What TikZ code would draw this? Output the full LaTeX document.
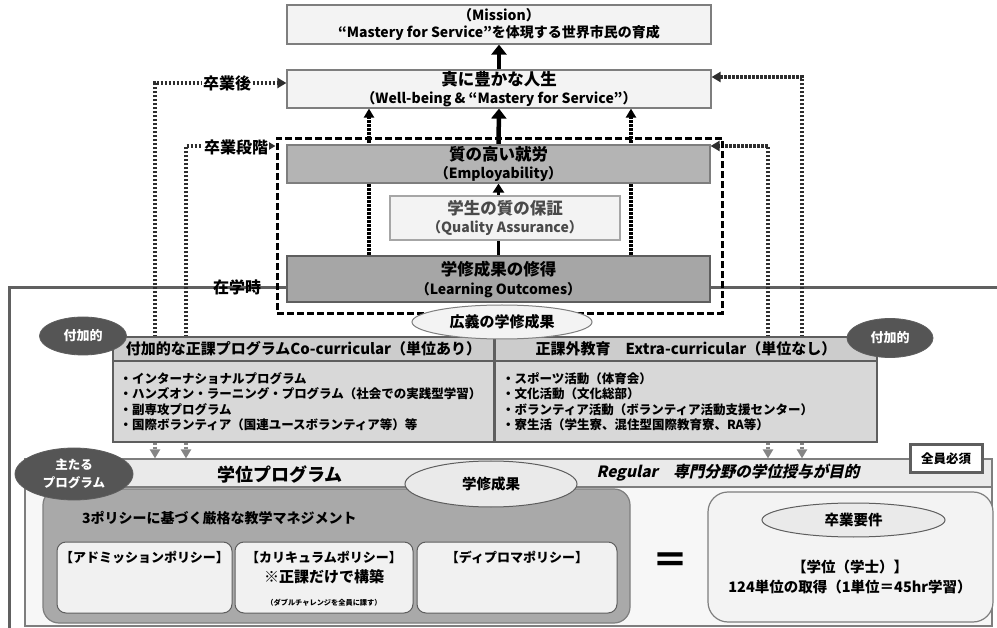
\documentclass[tikz,border=0pt]{standalone}
\usepackage{fontspec}
\setmainfont{Noto Sans CJK JP}
\newfontfamily\jpslant{Noto Sans CJK JP}[FakeSlant=0.22]
\usetikzlibrary{arrows.meta,shapes.geometric}
\definecolor{paleF}{HTML}{F3F3F3}
\definecolor{empF}{HTML}{B4B4B4}
\definecolor{loF}{HTML}{A6A6A6}
\definecolor{edgeG}{HTML}{7E7E7E}
\definecolor{edgeD}{HTML}{5E5E5E}
\definecolor{darkE}{HTML}{555555}
\definecolor{headF}{HTML}{CCCCCC}
\definecolor{bodyF}{HTML}{D8D8D8}
\definecolor{bandF}{HTML}{EAEAEA}
\definecolor{areaF}{HTML}{F7F7F7}
\definecolor{mgmtF}{HTML}{A9A9A9}
\definecolor{innerF}{HTML}{F1F1F1}
\definecolor{dotC}{HTML}{2E2E2E}
\definecolor{dotL}{HTML}{858585}
\definecolor{frameC}{HTML}{606060}
\definecolor{qaT}{HTML}{4A4A4A}
\pgfdeclarelayer{back}
\pgfdeclarelayer{conn}
\pgfsetlayers{back,conn,main}
\begin{document}
\begin{tikzpicture}[x=1pt,y=-1pt,
  box/.style={draw=edgeG,line width=1.2pt,inner sep=0pt,align=center},
  palebox/.style={box,fill=paleF},
  ttl/.style={font=\bfseries\fontsize{16.5}{17.5}\selectfont},
  bigarr/.style={line width=4.5pt,-{Triangle[length=10pt,width=15pt]}},
  dotline/.style={draw=dotC,line width=3.2pt,dash pattern=on 2.6pt off 1.4pt,-{Triangle[length=9pt,width=10pt]}},
  dotlow/.style={dotline,draw=dotL},
  darkell/.style={ellipse,fill=darkE,draw=edgeD,line width=0.8pt,inner sep=0pt,text=white,align=center,font=\bfseries\fontsize{13}{17}\selectfont},
  lightell/.style={ellipse,fill=paleF,draw=edgeG,line width=1pt,inner sep=0pt,align=center},
  lbl/.style={inner sep=1pt,font=\bfseries\fontsize{16}{18}\selectfont},
  rbox/.style={draw=edgeG,line width=1.2pt,inner sep=0pt},
  polt/.style={font=\bfseries\fontsize{13}{15}\selectfont},
]
\useasboundingbox (0,0) rectangle (997,628);

% ---------- top boxes ----------
\node[palebox,minimum width=424pt,minimum height=39pt,font=\bfseries\fontsize{14}{17}\selectfont] (mission) at (499,24.5) {（Mission）\\“Mastery for Service”を体現する世界市民の育成};
\node[palebox,minimum width=424pt,minimum height=38pt,ttl] (wb) at (499,89) {真に豊かな人生\\{\fontsize{14}{17.5}\selectfont （Well-being \& “Mastery for Service”）}};
\node[box,fill=empF,minimum width=423pt,minimum height=38pt,ttl] (emp) at (498.5,164) {質の高い就労\\{\fontsize{14}{17.5}\selectfont （Employability）}};
\node[palebox,draw=gray!70,minimum width=230pt,minimum height=44pt,ttl,text=qaT] (qa) at (505,218) {学生の質の保証\\{\fontsize{14}{17.5}\selectfont （Quality Assurance）}};
\node[box,fill=loF,draw=edgeD,line width=2.4pt,minimum width=423pt,minimum height=46pt,font=\bfseries\fontsize{16.5}{19}\selectfont] (lo) at (498.5,279) {学修成果の修得\\{\fontsize{14}{19}\selectfont （Learning Outcomes）}};
\node[draw=black,line width=3pt,dash pattern=on 7pt off 3pt,minimum width=445pt,minimum height=175pt,inner sep=0pt] (dbox) at (499.5,226) {};

% ---------- co / extra curricular ----------
\node[box,draw=edgeD,fill=headF,minimum width=381pt,minimum height=24pt,font=\bfseries\fontsize{15}{17}\selectfont] (cohead) at (303.5,349) {付加的な正課プログラムCo-curricular（単位あり）};
\node[box,draw=edgeD,fill=bodyF,minimum width=381pt,minimum height=81pt,text width=368pt,align=left,font=\bfseries\fontsize{12.5}{15.5}\selectfont] (cobody) at (303.5,401.5) {・インターナショナルプログラム\\・ハンズオン・ラーニング・プログラム（社会での実践型学習）\\・副専攻プログラム\\・国際ボランティア（国連ユースボランティア等）等};
\node[box,draw=edgeD,fill=headF,minimum width=382pt,minimum height=24pt,font=\bfseries\fontsize{15}{17}\selectfont] (exhead) at (686,349) {正課外教育\quad Extra-curricular（単位なし）};
\node[box,draw=edgeD,fill=bodyF,minimum width=382pt,minimum height=81pt,text width=368pt,align=left,font=\bfseries\fontsize{12.5}{15.5}\selectfont] (exbody) at (686,401.5) {・スポーツ活動（体育会）\\・文化活動（文化総部）\\・ボランティア活動（ボランティア活動支援センター）\\・寮生活（学生寮、混住型国際教育寮、RA等）};

\node[lightell,minimum width=180pt,minimum height=34pt,font=\bfseries\fontsize{15}{17}\selectfont] (kougi) at (502,322) {広義の学修成果};
\node[darkell,minimum width=87pt,minimum height=38pt] (fuka1) at (83,336) {付加的};
\node[darkell,minimum width=86pt,minimum height=39pt] (fuka2) at (890,338) {付加的};

% ---------- degree programme ----------
\node[rbox,fill=areaF,minimum width=967pt,minimum height=167pt] (gakui) at (508.5,542.5) {};
\node[rbox,fill=bandF,minimum width=967pt,minimum height=28pt] (band) at (508.5,473) {};
\node[font=\bfseries\fontsize{18}{20}\selectfont] (gptitle) at (280,474) {学位プログラム};
\node[font=\jpslant\bfseries\fontsize{15.5}{18}\selectfont] (regular) at (728,473) {Regular\quad 専門分野の学位授与が目的};
\node[draw=edgeD,line width=3pt,fill=white,minimum width=72pt,minimum height=28pt,inner sep=0pt,font=\bfseries\fontsize{12.5}{14}\selectfont] (zenin) at (946,459) {全員必須};

\node[rbox,fill=mgmtF,rounded corners=16pt,minimum width=587pt,minimum height=134pt] (mgmt) at (336.5,556) {};
\node[anchor=west,inner sep=0pt,font=\bfseries\fontsize{14}{16}\selectfont] (mgmtlbl) at (82,518) {3ポリシーに基づく厳格な教学マネジメント};
\node[rbox,draw=edgeD,line width=1pt,fill=innerF,rounded corners=9pt,minimum width=175pt,minimum height=71pt] (p1) at (144.5,577.5) {};
\node[rbox,draw=edgeD,line width=1pt,fill=innerF,rounded corners=9pt,minimum width=178pt,minimum height=71pt] (p2) at (324,577.5) {};
\node[rbox,draw=edgeD,line width=1pt,fill=innerF,rounded corners=9pt,minimum width=200pt,minimum height=71pt] (p3) at (517,577.5) {};
\node[polt] (p1t) at ([yshift=-16pt]p1.north) {【アドミッションポリシー】};
\node[polt] (p2t) at ([yshift=-16pt]p2.north) {【カリキュラムポリシー】};
\node[font=\bfseries\fontsize{15}{17}\selectfont] (p2n) at ([yshift=-35pt]p2.north) {※正課だけで構築};
\node[font=\bfseries\fontsize{7.2}{9}\selectfont] (p2s) at ([yshift=-61pt]p2.north) {（ダブルチャレンジを全員に課す）};
\node[polt] (p3t) at ([yshift=-16pt]p3.north) {【ディプロマポリシー】};

\node[font=\bfseries\fontsize{36}{38}\selectfont] (eq) at (670,563) {＝};

\node[rbox,fill=paleF,rounded corners=20pt,minimum width=285pt,minimum height=130pt] (req) at (850.5,557) {};
\node[lightell,fill=bandF,draw=edgeD,minimum width=183pt,minimum height=34pt,font=\bfseries\fontsize{14.5}{16}\selectfont] (reqell) at (853.5,520) {卒業要件};
\node[align=center,font=\bfseries\fontsize{14.5}{20}\selectfont] (reqtxt) at (850,577) {【学位（学士）】\\124単位の取得（1単位＝45hr学習）};

\node[lightell,fill=bandF,draw=edgeD,minimum width=172pt,minimum height=46pt,font=\bfseries\fontsize{14.5}{16}\selectfont] (gakushu) at (491,484) {学修成果};
\node[darkell,minimum width=118pt,minimum height=52pt,font=\bfseries\fontsize{12.5}{18}\selectfont] (shutaru) at (74,474) {主たる\\プログラム};

% ---------- labels ----------
\node[lbl,fill=white] (lab1) at (227,83) {卒業後};
\node[lbl,fill=white] (lab2) at (236,147) {卒業段階};
\node[lbl] (lab3) at (237,287) {在学時};

% ---------- background ----------
\begin{pgfonlayer}{back}
\fill[white] (0,0) rectangle (997,628);
\draw[frameC,line width=3pt] (997,288) -- (9,288) -- (9,628);
\end{pgfonlayer}

% ---------- connectors ----------
\coordinate (ax1) at (155,0);
\coordinate (ax2) at (186,0);
\coordinate (bx2) at (768,0);
\coordinate (bx1) at (802,0);
\coordinate (ux1) at (369,0);
\coordinate (ux2) at (631,0);
\begin{pgfonlayer}{conn}
\draw[dotline] (cobody.center -| ax1) |- ([yshift=6pt]wb.west);
\draw[dotline] (cobody.center -| ax2) |- ([yshift=-9pt]dbox.north west);
\draw[dotline] (exbody.center -| bx1) |- ([yshift=12pt]wb.east);
\draw[dotline] (exbody.center -| bx2) |- ([yshift=18pt]emp.east);
\draw[dotlow] (cobody.south -| ax1) -- (band.north -| ax1);
\draw[dotlow] (cobody.south -| ax2) -- (band.north -| ax2);
\draw[dotlow] (exbody.south -| bx1) -- (band.north -| bx1);
\draw[dotlow] (exbody.south -| bx2) -- (band.north -| bx2);
\draw[dotline,draw=black,line width=3.4pt] (lo.north -| ux1) -- (wb.south -| ux1);
\draw[dotline,draw=black,line width=3.4pt] (lo.north -| ux2) -- (wb.south -| ux2);
\draw[bigarr] (emp.north) -- (wb.south);
\draw[bigarr] (wb.north) -- (mission.south);
\draw[line width=2.2pt,-{Triangle[length=9pt,width=11pt]}] (lo.north) -- (emp.south);
\end{pgfonlayer}
\end{tikzpicture}
\end{document}
